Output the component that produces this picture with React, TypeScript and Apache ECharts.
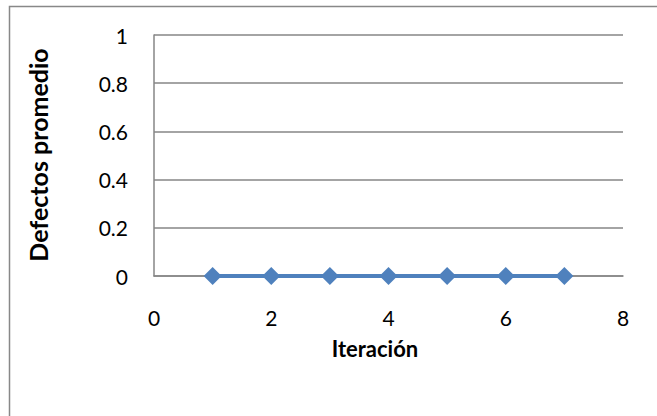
import React, { useEffect, useRef } from "react";
import * as echarts from "echarts";

// Average defects per iteration
const iterations = [1, 2, 3, 4, 5, 6, 7];
const avgDefects = [0, 0, 0, 0, 0, 0, 0];
const xTitle = "Iteración";
const yTitle = "Defectos promedio";

const FONT = "Lato, 'Liberation Sans', sans-serif";

export default function App() {
  const ref = useRef<HTMLDivElement>(null);

  useEffect(() => {
    if (!ref.current) return;
    const chart = echarts.init(ref.current, undefined, { renderer: "svg" });
    chart.setOption({
      animation: false,
      backgroundColor: "#ffffff",
      grid: { left: 154, top: 35, width: 469, height: 241, containLabel: false },
      xAxis: {
        type: "value",
        min: 0,
        max: 8,
        interval: 2,
        axisLine: { show: true, lineStyle: { color: "#868686", width: 1.5 } },
        axisTick: { show: false },
        splitLine: { show: false },
        axisLabel: { color: "#000", fontFamily: FONT, fontSize: 21, margin: 31 },
      },
      yAxis: {
        type: "value",
        min: 0,
        max: 1,
        interval: 0.2,
        axisLine: { show: true, lineStyle: { color: "#868686", width: 1.5 } },
        axisTick: { show: false },
        splitLine: { show: true, lineStyle: { color: "#868686", width: 1.5 } },
        axisLabel: { color: "#000", fontFamily: FONT, fontSize: 21, margin: 26 },
      },
      series: [
        {
          type: "line",
          data: iterations.map((x, i) => [x, avgDefects[i]]),
          symbol: "diamond",
          symbolSize: 18,
          lineStyle: { color: "#4F81BD", width: 4 },
          itemStyle: { color: "#4F81BD" },
          z: 5,
        },
      ],
      graphic: [
        {
          type: "rect",
          shape: { x: 9.5, y: 6.5, width: 700, height: 440 },
          style: { fill: "none", stroke: "#888", lineWidth: 1.5 },
          silent: true,
        },
        {
          type: "text",
          x: 375,
          y: 348,
          style: {
            text: xTitle,
            font: `bold 22px ${FONT}`,
            fill: "#000",
            align: "center",
            verticalAlign: "middle",
          },
        },
        {
          type: "text",
          x: 38,
          y: 155,
          rotation: Math.PI / 2,
          style: {
            text: yTitle,
            font: `bold 25px ${FONT}`,
            fill: "#000",
            align: "center",
            verticalAlign: "middle",
          },
        },
      ],
    });
    return () => chart.dispose();
  }, []);

  return (
    <div
      ref={ref}
      style={{ position: "absolute", left: 0, top: 0, width: 657, height: 416 }}
    />
  );
}
